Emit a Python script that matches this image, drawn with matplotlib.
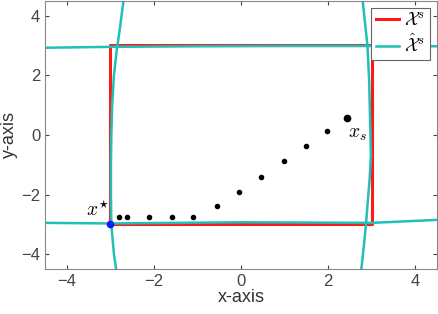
import matplotlib
matplotlib.use('Agg')
import matplotlib.pyplot as plt
import numpy as np

plt.rcParams['font.family'] = ['Liberation Sans', 'DejaVu Sans']
plt.rcParams['mathtext.fontset'] = 'cm'

# true set: box [-3, 3] x [-3, 3]
box_x = [-3, 3, 3, -3, -3]
box_y = [-3, -3, 3, 3, -3]

# approximated set boundary
left_y = [4.5, 3.5, 2.9, 2.0, 1.0, 0.0, -1.0, -2.0, -3.0, -3.5, -4.0, -4.5]
left_x = [-2.70, -2.79, -2.85, -2.92, -2.96, -2.98, -2.99, -2.99, -2.98, -2.95, -2.92, -2.87]
right_y = [4.5, 3.0, 1.8, 0.0, -0.7, -1.5, -2.2, -2.93, -3.7, -4.5]
right_x = [2.79, 2.90, 2.94, 2.97, 2.98, 2.95, 2.91, 2.87, 2.82, 2.76]
top_x = [-4.5, -3.0, -1.0, 1.0, 3.0, 4.5]
top_y = [2.92, 2.95, 2.97, 2.98, 2.98, 2.97]
bot_x = [-4.5, -3.0, 0.0, 3.0, 4.5]
bot_y = [-2.95, -2.97, -2.93, -2.95, -2.85]

# iterates
path_x = [-2.80, -2.61, -2.12, -1.58, -1.11, -0.55, -0.04, 0.45, 0.98, 1.48, 1.97]
path_y = [-2.77, -2.77, -2.77, -2.77, -2.77, -2.39, -1.90, -1.40, -0.87, -0.36, 0.12]
xs = (2.42, 0.58)
xstar = (-3.0, -3.0)

red = '#ff1a1a'
cyan = '#1fc0b6'

fig = plt.figure(figsize=(4.38, 3.14), dpi=100)
ax = fig.add_axes([0.103, 0.143, 0.895, 0.855])

ax.plot(box_x, box_y, color=red, lw=2.2, label=r'$\mathcal{X}^s$')
ax.plot(left_x, left_y, color=cyan, lw=1.8, label=r'$\hat{\mathcal{X}}^s$')
ax.plot(right_x, right_y, color=cyan, lw=1.8)
ax.plot(top_x, top_y, color=cyan, lw=1.8)
ax.plot(bot_x, bot_y, color=cyan, lw=1.8)

ax.plot(path_x, path_y, 'k.', ms=6)
ax.plot(xs[0], xs[1], 'k.', ms=9)
ax.plot(xstar[0], xstar[1], '.', color='#0a1aff', ms=9)

ax.text(-3.03, -2.72, r'$x^{\star}$', ha='right', va='baseline', fontsize=14)
ax.text(2.46, -0.08, r'$x_s$', ha='left', va='baseline', fontsize=14)

ax.set_xlim(-4.5, 4.5)
ax.set_ylim(-4.5, 4.5)
ax.set_xticks([-4, -2, 0, 2, 4])
ax.set_yticks([-4, -2, 0, 2, 4])
ax.tick_params(direction='in', top=True, right=True, labelsize=12,
               colors='#444444', length=3)
for s in ax.spines.values():
    s.set_color('#888888')
ax.set_xlabel('x-axis', fontsize=13, color='#333333', labelpad=0)
ax.set_ylabel('y-axis', fontsize=13, color='#333333', labelpad=2)

leg = ax.legend(loc='upper right', fontsize=13, handlelength=1.3,
                borderaxespad=0.4, borderpad=0.25, labelspacing=0.25,
                fancybox=False, framealpha=1, handletextpad=0.3)
leg.get_frame().set_edgecolor('#666666')
leg.get_frame().set_linewidth(0.8)

fig.savefig('out.png', dpi=100)
